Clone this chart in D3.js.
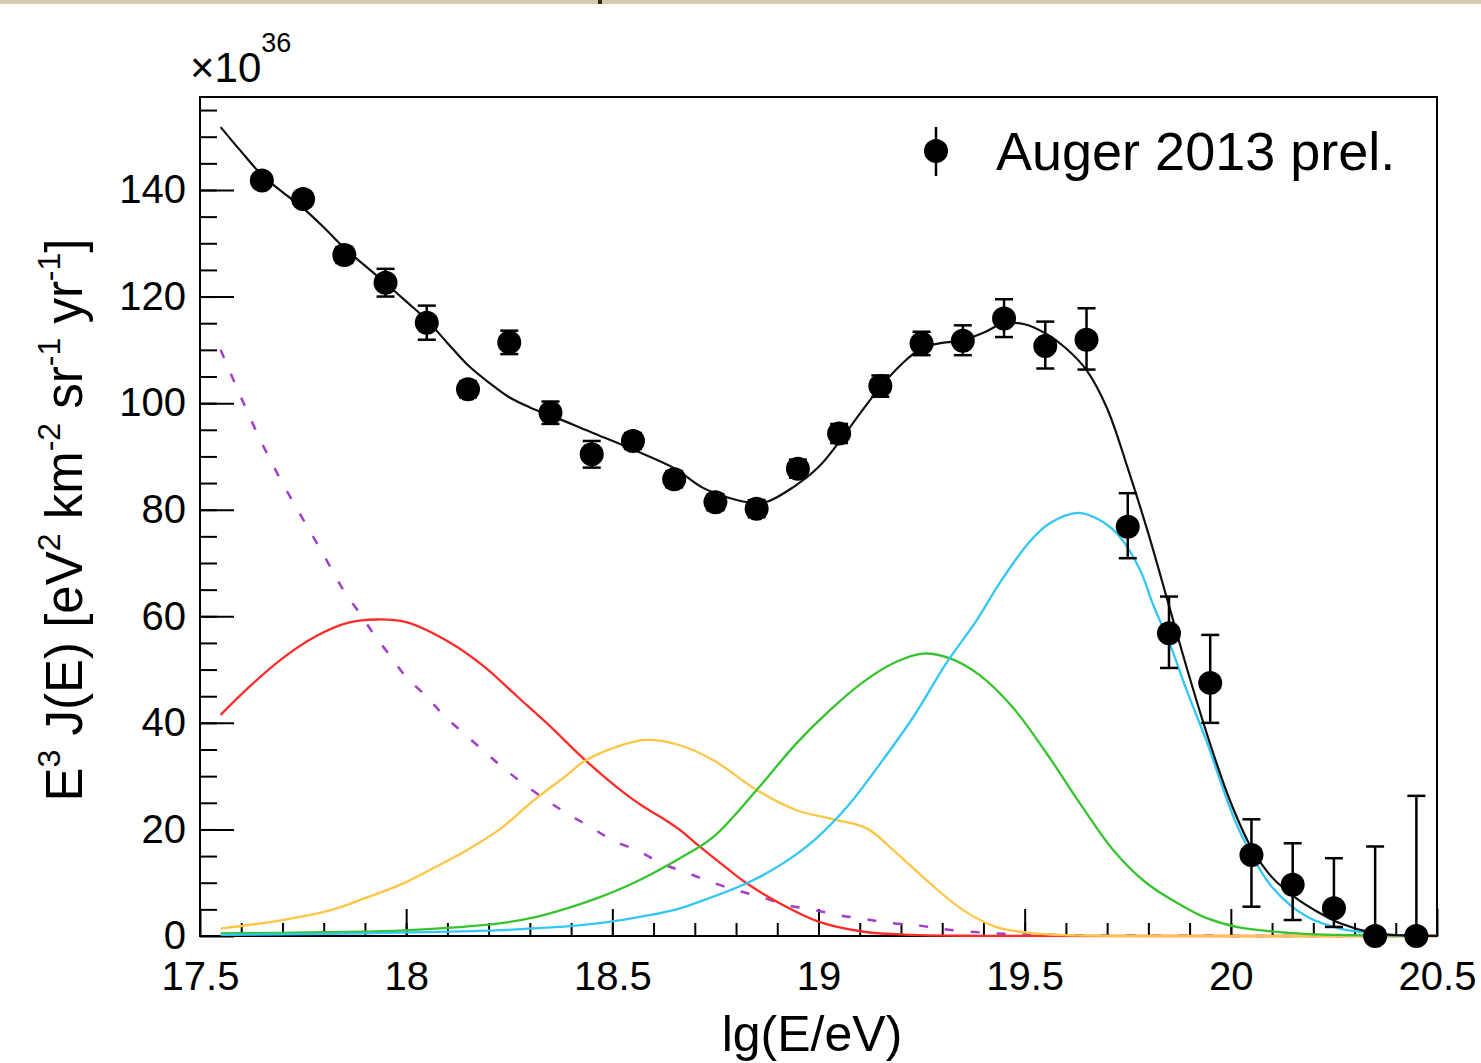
<!DOCTYPE html>
<html>
<head>
<meta charset="utf-8">
<script src="https://cdn.jsdelivr.net/npm/d3@7"></script>
<style>
body{margin:0;background:#fff;}
text{font-family:"Liberation Sans", Arial, Helvetica, sans-serif;fill:#000;}
</style>
</head>
<body>
<svg width="1481" height="1063"></svg>
<script>
// data points (bin centres in lg(E/eV), flux in units of 1e36)
var lgE = [17.65,17.75,17.85,17.95,18.05,18.15,18.25,18.35,18.45,18.55,18.65,18.75,18.85,18.95,19.05,
           19.15,19.25,19.35,19.45,19.55,19.65,19.75,19.85,19.95,20.05,20.15,20.25,20.35,20.45];
var flux = [141.8,138.3,127.8,122.6,115.1,102.6,111.4,98.2,90.4,92.9,85.7,81.4,80.2,87.7,94.3,
            103.2,111.2,111.7,115.9,110.7,111.9,76.8,56.8,47.5,15.2,9.6,5.2,0,0];
var errUp = [1.2,1.3,1.5,2.6,3.2,1.5,2.2,2.1,2.5,1.5,1.5,1.5,1.6,1.7,1.8,
             2.0,2.2,2.9,3.6,4.6,5.9,6.3,6.9,9.0,6.7,7.8,9.4,16.8,26.3];
var errDown = [1.2,1.3,1.5,2.6,3.2,1.5,2.2,2.1,2.5,1.5,1.5,1.5,1.6,1.7,1.8,
               2.0,2.2,2.7,3.5,4.2,5.6,5.9,6.5,7.5,9.7,6.6,3.5,0,0];

// model curves
var totalCurve = [[17.55,151.8],[17.6,147.2],[17.65,142.8],[17.7,139.6],[17.75,136.6],[17.8,133.0],[17.85,129.1],
  [17.9,125.8],[17.95,122.5],[18.0,119.1],[18.05,115.6],[18.1,111.3],[18.15,107.1],[18.2,103.9],[18.25,101.1],
  [18.3,99.2],[18.35,97.7],[18.45,94.5],[18.55,91.3],[18.65,87.8],[18.72,84.1],[18.78,82.3],[18.83,81.4],
  [18.875,81.5],[18.94,84.3],[19.0,88.0],[19.05,92.7],[19.1,98.0],[19.15,103.0],[19.2,107.2],[19.25,110.3],
  [19.3,111.3],[19.35,111.8],[19.4,113.2],[19.45,115.0],[19.5,114.8],[19.55,113.1],[19.6,110.3],[19.65,106.2],
  [19.7,99.0],[19.75,87.8],[19.8,75.5],[19.85,62.0],[19.9,48.5],[19.95,36.0],[20.0,25.0],[20.05,16.5],
  [20.1,11.0],[20.16,7.0],[20.2,5.0],[20.265,2.4],[20.345,0.6],[20.42,0.1],[20.5,0.02]];
var redCurve = [[17.55,41.5],[17.62,46.8],[17.7,52.1],[17.78,56.2],[17.86,58.8],[17.93,59.4],[18.0,58.9],
  [18.11,54.9],[18.19,50.5],[18.27,44.9],[18.35,39.3],[18.43,33.3],[18.51,28.0],[18.575,24.3],[18.62,22.2],
  [18.664,19.9],[18.71,16.9],[18.77,13.2],[18.826,9.9],[18.907,6.1],[19.0,2.7],[19.11,0.8],[19.23,0.2],
  [19.4,0.03],[19.8,0],[20.5,0]];
var yellowCurve = [[17.55,1.4],[17.7,3.0],[17.82,4.9],[17.9,7.1],[17.985,9.6],[18.065,12.7],[18.147,16.1],
  [18.23,20.2],[18.31,25.5],[18.39,30.2],[18.43,32.7],[18.51,35.5],[18.583,36.8],[18.664,35.8],[18.745,33.0],
  [18.85,27.4],[18.947,23.6],[19.036,21.9],[19.117,20.2],[19.19,15.5],[19.27,9.9],[19.35,4.9],[19.43,1.7],
  [19.51,0.6],[19.6,0.15],[19.8,0.01],[20.5,0]];
var greenCurve = [[17.55,0.5],[17.8,0.7],[17.985,1.0],[18.12,1.6],[18.23,2.4],[18.31,3.5],[18.39,5.2],
  [18.47,7.3],[18.55,9.9],[18.664,14.6],[18.745,18.6],[18.85,27.4],[18.947,36.2],[19.028,42.4],[19.109,47.7],
  [19.19,51.5],[19.254,53.0],[19.319,52.1],[19.39,49.0],[19.47,43.0],[19.553,34.3],[19.634,24.9],[19.715,16.1],
  [19.796,9.9],[19.877,5.9],[19.94,3.4],[20.02,1.6],[20.14,0.6],[20.265,0.2],[20.5,0.03]];
var blueCurve = [[17.55,0.2],[17.9,0.5],[18.23,1.1],[18.37,1.7],[18.47,2.4],[18.59,3.9],[18.664,5.2],
  [18.71,6.4],[18.826,9.9],[18.907,13.3],[18.99,18.0],[19.07,24.3],[19.15,32.4],[19.23,41.1],[19.31,51.2],
  [19.384,59.3],[19.44,66.3],[19.51,73.8],[19.56,77.4],[19.63,79.4],[19.683,78.0],[19.731,74.9],[19.78,68.7],
  [19.81,62.5],[19.855,54.2],[19.89,46.7],[19.94,36.8],[20.02,19.9],[20.1,9.2],[20.185,3.6],[20.265,1.4],
  [20.345,0.5],[20.42,0.1],[20.5,0.02]];
var purpleCurve = [[17.55,110],[17.6,101],[17.65,92.5],[17.7,85],[17.75,78.2],[17.8,71.5],[17.848,64.9],
  [17.888,60.5],[17.92,56.8],[17.96,52.7],[18.0,48.6],[18.05,44.9],[18.09,41.5],[18.14,38.0],[18.19,34.6],
  [18.236,31.5],[18.284,28.6],[18.34,25.5],[18.39,23.0],[18.446,20.5],[18.5,18.0],[18.567,15.8],[18.62,13.6],
  [18.68,11.9],[18.737,10.2],[18.8,8.6],[18.858,7.4],[18.923,5.8],[18.988,4.9],[19.05,3.9],[19.11,3.2],
  [19.17,2.5],[19.25,1.9],[19.3,1.3],[19.37,0.8],[19.43,0.5],[19.5,0.3],[19.7,0.1],[20.0,0.02],[20.5,0]];

var xTicks = [17.5,18,18.5,19,19.5,20,20.5];
var yTicks = [0,20,40,60,80,100,120,140];
var legendLabel = 'Auger 2013 prel.';

var svg = d3.select('svg');

// strip of the page at the very top
svg.append('rect').attr('x',0).attr('y',0).attr('width',1481).attr('height',4).attr('fill','#d8cbab');
svg.append('rect').attr('x',598).attr('y',0).attr('width',4).attr('height',4).attr('fill','#3b2a18');

var x = d3.scaleLinear().domain([17.5,20.5]).range([200,1437]);
var y = d3.scaleLinear().domain([0,157.45]).range([936,97]);

var line = d3.line()
    .x(function(d){ return x(d[0]); })
    .y(function(d){ return Math.min(936, y(d[1])); })
    .curve(d3.curveCatmullRom.alpha(0.5));

// minor ticks first, then major ticks with labels (ROOT style, inside the frame)
svg.append('g')
    .attr('transform','translate(0,936)')
    .call(d3.axisBottom(x).tickValues(d3.range(17.6,20.45,0.1)).tickSize(-13).tickFormat(''))
    .call(function(g){ g.select('.domain').remove(); g.selectAll('line').attr('stroke-width',2); });
svg.append('g')
    .attr('transform','translate(0,936)')
    .call(d3.axisBottom(x).tickValues(xTicks).tickSize(-27).tickPadding(26).tickFormat(function(d){ return String(d); }))
    .call(function(g){
        g.select('.domain').remove();
        g.selectAll('line').attr('stroke-width',2);
        g.selectAll('text').attr('font-size',40).attr('font-family','"Liberation Sans", Arial, sans-serif');
    });

svg.append('g')
    .attr('transform','translate(200,0)')
    .call(d3.axisLeft(y).tickValues(d3.range(5,157,5)).tickSize(-17).tickFormat(''))
    .call(function(g){ g.select('.domain').remove(); g.selectAll('line').attr('stroke-width',2); });
svg.append('g')
    .attr('transform','translate(200,0)')
    .call(d3.axisLeft(y).tickValues(yTicks).tickSize(-34).tickPadding(14))
    .call(function(g){
        g.select('.domain').remove();
        g.selectAll('line').attr('stroke-width',2);
        g.selectAll('text').attr('font-size',40).attr('font-family','"Liberation Sans", Arial, sans-serif');
    });

// frame
svg.append('rect')
    .attr('x',200).attr('y',97).attr('width',1237).attr('height',839)
    .attr('fill','none').attr('stroke','#000').attr('stroke-width',2);

// curves
var curves = [
    {d: purpleCurve, color: '#a43ec8', dash: '9,17', w: 2.5},
    {d: redCurve, color: '#ff2b2b', dash: null, w: 2.3},
    {d: yellowCurve, color: '#ffc544', dash: null, w: 2.3},
    {d: greenCurve, color: '#36c42e', dash: null, w: 2.3},
    {d: blueCurve, color: '#33c6f6', dash: null, w: 2.3},
    {d: totalCurve, color: '#111', dash: null, w: 2.2}
];
svg.append('g').selectAll('path')
    .data(curves)
    .enter()
    .append('path')
    .attr('d', function(c){ return line(c.d); })
    .attr('fill','none')
    .attr('stroke', function(c){ return c.color; })
    .attr('stroke-width', function(c){ return c.w; })
    .attr('stroke-dasharray', function(c){ return c.dash; });

// data points with error bars
var pts = lgE.map(function(v,i){ return {x:v, y:flux[i], up:errUp[i], dn:errDown[i]}; });
var pg = svg.append('g').selectAll('g').data(pts).enter().append('g');
pg.append('line')
    .attr('x1',function(d){ return x(d.x); }).attr('x2',function(d){ return x(d.x); })
    .attr('y1',function(d){ return y(d.y + d.up); }).attr('y2',function(d){ return y(d.y - d.dn); })
    .attr('stroke','#000').attr('stroke-width',2.5);
pg.append('line')
    .attr('x1',function(d){ return x(d.x) - 9; }).attr('x2',function(d){ return x(d.x) + 9; })
    .attr('y1',function(d){ return y(d.y + d.up); }).attr('y2',function(d){ return y(d.y + d.up); })
    .attr('stroke','#000').attr('stroke-width',2.5);
pg.filter(function(d){ return d.dn > 0; }).append('line')
    .attr('x1',function(d){ return x(d.x) - 9; }).attr('x2',function(d){ return x(d.x) + 9; })
    .attr('y1',function(d){ return y(d.y - d.dn); }).attr('y2',function(d){ return y(d.y - d.dn); })
    .attr('stroke','#000').attr('stroke-width',2.5);
pg.append('circle')
    .attr('cx',function(d){ return x(d.x); })
    .attr('cy',function(d){ return y(d.y); })
    .attr('r',12).attr('fill','#000');

// legend
svg.append('line').attr('x1',936).attr('x2',936).attr('y1',127).attr('y2',176)
    .attr('stroke','#000').attr('stroke-width',2.5);
svg.append('circle').attr('cx',936).attr('cy',151).attr('r',12).attr('fill','#000');
svg.append('text').attr('x',996).attr('y',170).attr('font-size',54).text(legendLabel);

// exponent
var ex = svg.append('text').attr('x',190).attr('y',82).attr('font-size',42);
ex.append('tspan').text('\u00d710');
ex.append('tspan').attr('font-size',27).attr('dy',-30).text('36');

// axis titles
svg.append('text')
    .attr('x',812).attr('y',1051)
    .attr('text-anchor','middle')
    .attr('font-size',50)
    .text('lg(E/eV)');

var yt = svg.append('text')
    .attr('transform','translate(82,520) rotate(-90)')
    .attr('text-anchor','middle')
    .attr('font-size',51);
var parts = [['E',0],['3',1],[' J(E) [eV',0],['2',1],[' km',0],['-2',1],[' sr',0],['-1',1],[' yr',0],['-1',1],[']',0]];
parts.forEach(function(p, i){
    var prevSup = i > 0 && parts[i-1][1];
    var t = yt.append('tspan').text(p[0]);
    if (p[1]) t.attr('font-size',32).attr('dy',-22);
    else if (prevSup) t.attr('dy',22);
});
</script>
</body>
</html>
